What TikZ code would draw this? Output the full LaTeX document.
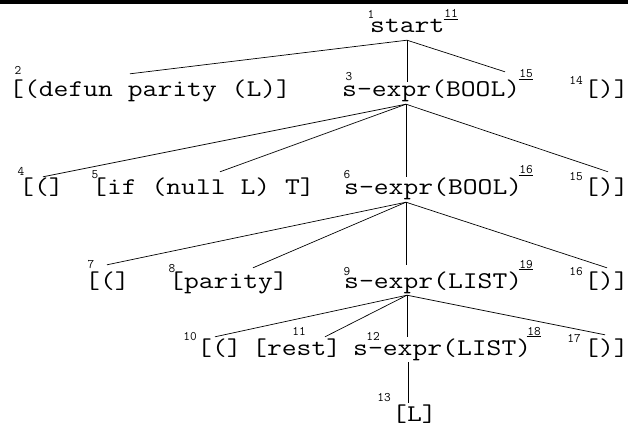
\documentclass[tikz,border=0pt]{standalone}
\usepackage{graphicx}

% monospace token, widened a little to courier proportions
\newcommand{\ptok}[1]{\scalebox{1.2}[1]{#1}}

\tikzset{
  tok/.style={font=\ttfamily\fontsize{24}{28}\selectfont, anchor=base west,
    inner sep=0pt, text height=18pt, text depth=7pt},
  supnum/.style={font=\ttfamily\fontsize{13}{15}\selectfont,
    inner xsep=0.5pt, inner ysep=1.5pt, text height=8pt, text depth=0pt},
  ulnum/.style={supnum, append after command={
    (\tikzlastnode.south west) edge[line width=0.7pt] (\tikzlastnode.south east)}},
  branch/.style={line width=0.7pt}
}

\begin{document}
\begin{tikzpicture}[x=1pt,y=-1pt]
  \useasboundingbox (0,0) rectangle (628,430);

  % Rule at the top
  \fill (0,0) rectangle (628,4);

  % Tree tokens (placed on their baselines)
  \node[tok] (root) at (370,33) {\ptok{start}};

  \node[tok] (d1) at (9,97) {\ptok{[(defun parity (L)]}};
  \node[tok] (s1) at (342,97) {\ptok{s-expr(BOOL)}};
  \node[tok] (c1) at (584,97) {\ptok{[)]}};

  \node[tok] (o2) at (19,195) {\ptok{[(]}};
  \node[tok] (i2) at (92,195) {\ptok{[if (null L) T]}};
  \node[tok] (s2) at (344,195) {\ptok{s-expr(BOOL)}};
  \node[tok] (c2) at (584,195) {\ptok{[)]}};

  \node[tok] (o3) at (85,288) {\ptok{[(]}};
  \node[tok] (p3) at (169,288) {\ptok{[parity]}};
  \node[tok] (s3) at (344,288) {\ptok{s-expr(LIST)}};
  \node[tok] (c3) at (584,288) {\ptok{[)]}};

  \node[tok] (o4) at (197,355) {\ptok{[(]}};
  \node[tok] (r4) at (252,355) {\ptok{[rest]}};
  \node[tok] (s4) at (353,355) {\ptok{s-expr(LIST)}};
  \node[tok] (c4) at (584,355) {\ptok{[)]}};

  \node[tok] (l5) at (392,421) {\ptok{[L]}};

  % Branches: child / x offset / y offset of the end point
  \foreach \c/\dx/\dy in {d1/121/5, s1/65/-3, c1/-79/7}
    \draw[branch] ([xshift=37pt]root.south west) -- ([xshift=\dx pt,yshift=\dy pt]\c.north west);
  \foreach \c/\dx/\dy in {o2/24/0, i2/128/5, s2/62/0, c2/24/5}
    \draw[branch] ([xshift=64pt]s1.south west) -- ([xshift=\dx pt,yshift=\dy pt]\c.north west);
  \foreach \c/\dx/\dy in {o3/22/5, p3/84/2, s3/62/5, c3/23/2}
    \draw[branch] ([xshift=62pt]s2.south west) -- ([xshift=\dx pt,yshift=\dy pt]\c.north west);
  \foreach \c/\dx/\dy in {o4/18/0, r4/73/0, s4/54/0, c4/21/2}
    \draw[branch] ([xshift=63pt]s3.south west) -- ([xshift=\dx pt,yshift=\dy pt]\c.north west);
  \draw[branch] ([xshift=55pt]s4.south west) -- ([xshift=16pt]l5.north west);

  % Visit numbers
  \foreach \x/\y/\t [count=\k] in {371/15/1, 18/71/2, 349/77/3, 576/81/14,
      21/172/4, 95/175/5, 347/175/6, 576/177/15,
      91/264/7, 172/268/8, 347/271/9, 576/271/16,
      190/336/10, 299/331/11, 373/336/12, 574/338/17, 384/397/13}
    \node[supnum] (sup\k) at (\x,\y) {\t};

  % Underlined return numbers
  \foreach \x/\y/\t [count=\k] in {451/14/11, 526/74/15, 526/170/16, 526/264/19, 534/331/18}
    \node[ulnum] (ret\k) at (\x,\y) {\t};
\end{tikzpicture}
\end{document}
